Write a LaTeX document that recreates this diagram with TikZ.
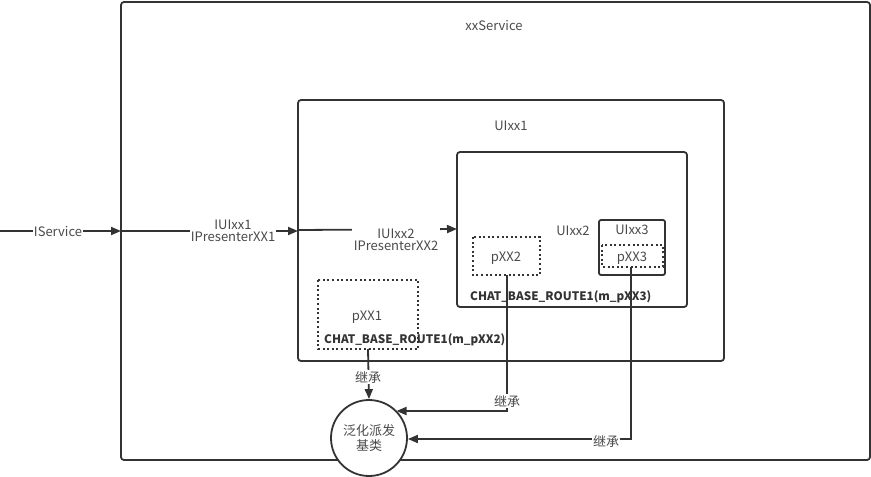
\documentclass[tikz,border=0pt]{standalone}
\usepackage{fontspec}
\setmainfont{Noto Sans CJK SC}
\usetikzlibrary{arrows.meta}
\definecolor{ln}{HTML}{333333}
\definecolor{tx}{HTML}{4A4A4A}
\begin{document}
\begin{tikzpicture}[x=1pt,y=-1pt,
  box/.style={draw=ln,line width=1.8pt,rounded corners=3pt},
  dotbox/.style={draw=ln,line width=1.8pt,dash pattern=on 2pt off 2.6pt},
  lbl/.style={text=tx,font=\fontsize{13}{15}\selectfont,inner sep=1pt},
  blbl/.style={text=ln,font=\fontsize{11.7}{14}\selectfont\bfseries,inner sep=1pt},
  conn/.style={draw=ln,line width=1.8pt},
  arr/.style={conn,-{Triangle[length=10pt,width=8pt]}},
  wl/.style={lbl,fill=white,align=center}]
\useasboundingbox (0,0) rectangle (871,477);
% boxes
\draw[box] (121,2) rectangle (870,460);
\node[lbl] (svc) at (494,26) {xxService};
\draw[box] (298,100) rectangle (724,361);
\node[lbl] (ui1) at (511,126) {UIxx1};
\draw[box] (457,152) rectangle (687,307);
\node[lbl] (ui2) at (573,231) {UIxx2};
\node[blbl,anchor=west] (cb3) at (469,297) {CHAT\_BASE\_ROUTE1(m\_pXX3)};
\draw[box,rounded corners=2pt] (599,220) rectangle (665,275);
\node[lbl] (ui3) at (632,230) {UIxx3};
\draw[dotbox] (602,245) rectangle (663,267);
\node[lbl] (p3) at (632,258) {pXX3};
\draw[dotbox] (473,237) rectangle (540,275);
\node[lbl] (p2) at (506,258) {pXX2};
\draw[dotbox] (318,280) rectangle (418,349);
\node[lbl] (p1) at (367,317) {pXX1};
\node[blbl,anchor=west] (cb2) at (323,340) {CHAT\_BASE\_ROUTE1(m\_pXX2)};
% base circle
\node[draw=ln,line width=1.8pt,circle,minimum size=76pt,inner sep=0pt,lbl,align=center,fill=white] (base) at (369,438) {泛化派发\\基类};
% coordinates
\coordinate (s0) at (0,231);
\coordinate (s1) at (121,231);
\coordinate (u1) at (298,231);
\coordinate (u1b) at (298,230);
\coordinate (u2) at (457,229);
\coordinate (p1b) at (368,349);
\coordinate (p2b) at (507,275);
\coordinate (p3b) at (631,267);
% connectors
\draw[arr] (s0) -- (s1);
\node[wl] (isvc) at (58,232) {IService};
\draw[arr] (s1) -- (u1);
\node[wl] (iui1) at (233,231) {IUIxx1\\[-3pt]IPresenterXX1};
\draw[arr] (u1b) -- (u2);
\node[wl,inner xsep=2pt,inner ysep=5pt] (iui2) at (396,240) {IUIxx2\\[-3pt]IPresenterXX2};
\draw[arr] (p1b) -- (base.north);
\node[wl] (j1) at (368,377) {继承};
\draw[arr] (p2b) |- (base.north east |- 0,411);
\node[wl] (j2) at (507,401) {继承};
\draw[arr] (p3b) |- (base.east |- 0,439);
\node[wl] (j3) at (606,441) {继承};
\end{tikzpicture}
\end{document}
